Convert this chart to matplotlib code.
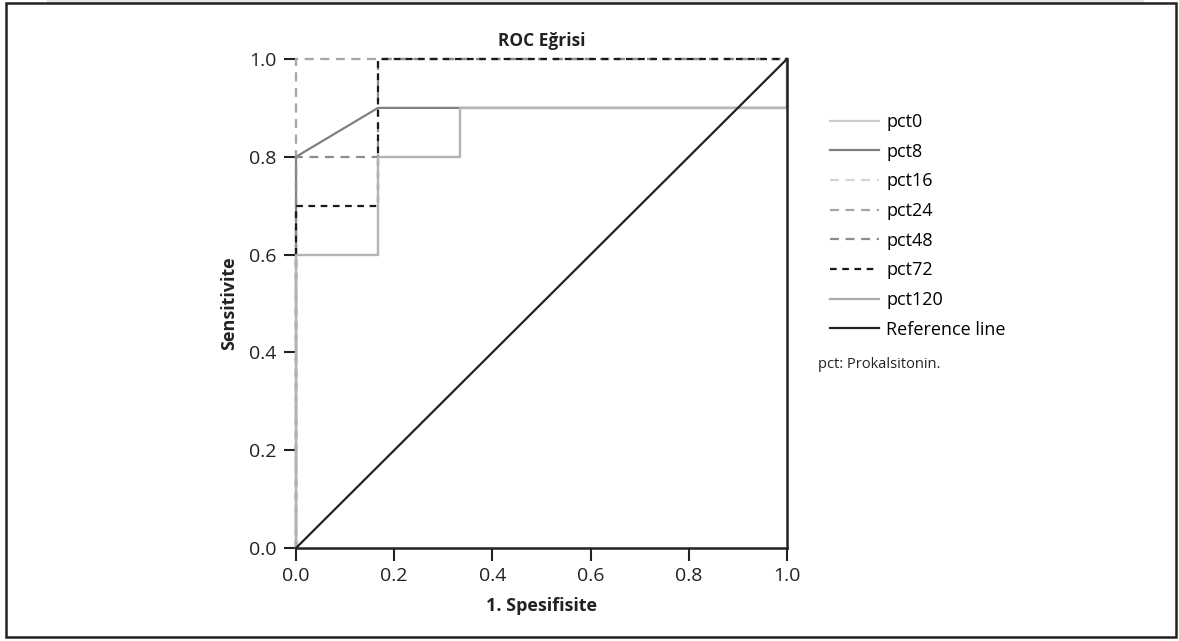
import matplotlib

matplotlib.use("Agg")
import matplotlib.pyplot as plt
from matplotlib.lines import Line2D
from matplotlib.patches import Rectangle

plt.rcParams["font.family"] = ["Open Sans", "DejaVu Sans"]

# ROC curve points (1 - specificity, sensitivity)
pct0_x = [0, 0, 0.167, 0.167, 0.333, 0.333, 1, 1]
pct0_y = [0, 0.6, 0.6, 0.8, 0.8, 0.9, 0.9, 1]
pct8_x = [0, 0, 0.167, 0.333, 1, 1]
pct8_y = [0, 0.8, 0.9, 0.9, 0.9, 1]
pct16_x = [0, 0, 1]
pct16_y = [0, 1, 1]
pct24_x = [0, 0, 0.167, 1]
pct24_y = [0, 1, 1, 1]
pct48_x = [0, 0, 0.167, 0.167, 1]
pct48_y = [0, 0.8, 0.8, 1, 1]
pct72_x = [0, 0, 0, 0.167, 0.167, 1]
pct72_y = [0, 0.6, 0.7, 0.7, 1, 1]
pct120_x = [0, 0, 0.167, 0.167, 0.333, 0.333, 1, 1]
pct120_y = [0, 0.6, 0.6, 0.8, 0.8, 0.9, 0.9, 1]
ref_x = [0, 1]
ref_y = [0, 1]

ticks = [0.0, 0.2, 0.4, 0.6, 0.8, 1.0]
tick_labels = ["0.0", "0.2", "0.4", "0.6", "0.8", "1.0"]

# (label, x, y, colour, linestyle, zorder)
curves = [
    ("pct0", pct0_x, pct0_y, "#cccccc", "-", 3),
    ("pct8", pct8_x, pct8_y, "#808080", "-", 2.6),
    ("pct16", pct16_x, pct16_y, "#d4d4d4", (0, (4, 3)), 3.1),
    ("pct24", pct24_x, pct24_y, "#a6a6a6", (0, (4, 3)), 3.2),
    ("pct48", pct48_x, pct48_y, "#8c8c8c", (0, (4, 3)), 3.3),
    ("pct72", pct72_x, pct72_y, "#1a1a1a", (0, (3, 2.5)), 3.4),
    ("pct120", pct120_x, pct120_y, "#b4b4b4", "-", 3.5),
    ("Reference line", ref_x, ref_y, "#222222", "-", 3.6),
]

fig = plt.figure(figsize=(11.79, 6.41), dpi=100)
ax = fig.add_axes([0.2511, 0.1451, 0.4164, 0.7629])

handles = []
for label, xs, ys, color, ls, z in curves:
    ax.plot(xs, ys, color=color, linestyle=ls, linewidth=1.6, zorder=z,
            clip_on=False)
    leg_color = "#aaaaaa" if label == "pct120" else color
    handles.append(Line2D([], [], color=leg_color, linestyle=ls, linewidth=1.6,
                          label=label))

ax.set_xlim(0, 1)
ax.set_ylim(0, 1)
ax.set_xticks(ticks, tick_labels)
ax.set_yticks(ticks, tick_labels)
ax.tick_params(labelsize=14, length=9, width=1.5, color="#222222",
               labelcolor="#222222", pad=5)
ax.spines["top"].set_visible(False)
ax.spines["left"].set_visible(False)
for side in ("bottom", "right"):
    ax.spines[side].set_linewidth(1.8)
    ax.spines[side].set_color("#222222")
    ax.spines[side].set_zorder(4)

ax.set_title("ROC Eğrisi", fontsize=12.5, fontweight="bold", pad=9,
             color="#222222")
ax.set_xlabel("1. Spesifisite", fontsize=13, fontweight="bold", labelpad=8,
              color="#222222")
ax.set_ylabel("Sensitivite", fontsize=13, fontweight="bold", labelpad=8,
              color="#222222")

fig.legend(handles=handles, loc="upper left", bbox_to_anchor=(0.698, 0.835),
           frameon=False, fontsize=13, handlelength=2.7, handletextpad=0.4,
           labelspacing=0.645, borderaxespad=0)
fig.text(0.694, 0.432, "pct: Prokalsitonin.", fontsize=10.5, color="#222222",
         va="center")

# outer frame of the figure panel
fig.patches.append(Rectangle((0.04, 0.996), 0.93, 0.004, transform=fig.transFigure,
                             facecolor="#e6e6e6", edgecolor="none"))
fig.patches.append(Rectangle((0.0055, 0.006), 0.992, 0.99, transform=fig.transFigure,
                             facecolor="none", edgecolor="#222222", linewidth=1.8))

fig.savefig("out.png", dpi=100)
